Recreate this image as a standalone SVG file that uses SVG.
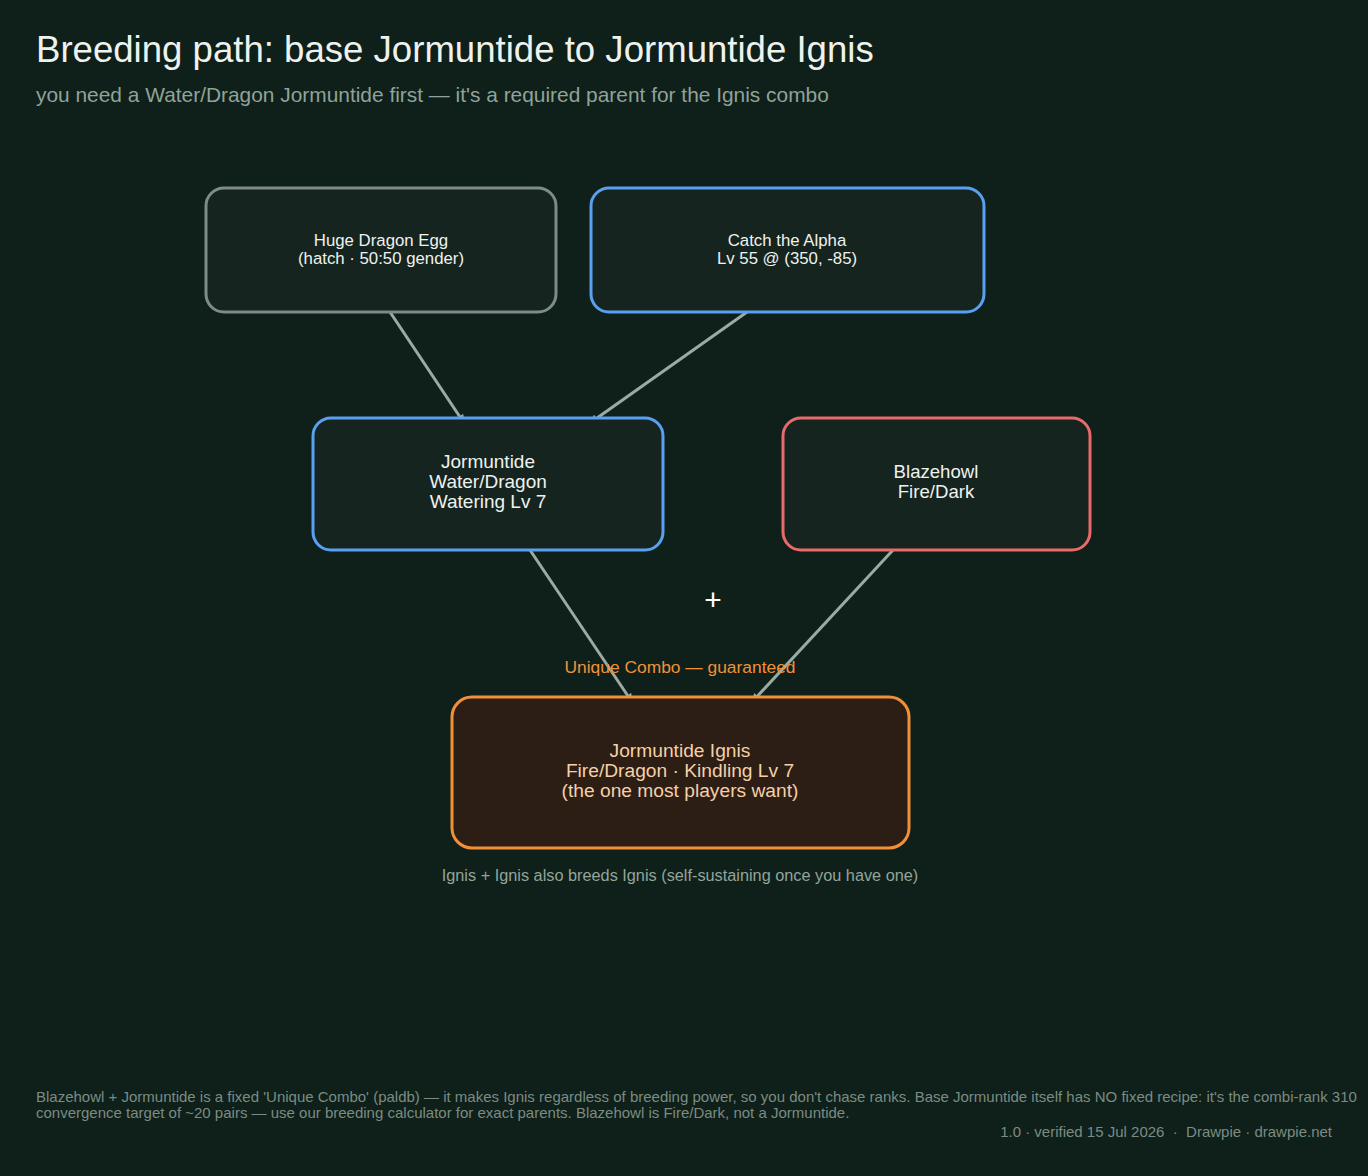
<svg xmlns="http://www.w3.org/2000/svg" width="1368" height="1176" viewBox="0 0 1368 1176">
<style>
text{font-family:"Liberation Sans",Arial,sans-serif}
.box{fill:#16241f;stroke-width:3}
.lbl{fill:#eef2ee;text-anchor:middle}
.edge{stroke:#9aaba1;stroke-width:3;fill:none}
</style>
<defs>
<marker id="ah" viewBox="0 0 10 10" refX="9" refY="5" markerWidth="3" markerHeight="3" orient="auto">
<path d="M0,0 L10,5 L0,10 z" fill="#9aaba1"/>
</marker>
</defs>
<rect width="1368" height="1176" fill="#0f1f19"/>
<text x="36" y="62" font-size="36.6" fill="#eef2ee">Breeding path: base Jormuntide to Jormuntide Ignis</text>
<text x="36" y="102" font-size="20.9" fill="#8fa39a">you need a Water/Dragon Jormuntide first — it's a required parent for the Ignis combo</text>
<g id="connectors">
<line class="edge" x1="390" y1="312" x2="464" y2="423" marker-end="url(#ah)"/>
<line class="edge" x1="747" y1="312" x2="590" y2="423" marker-end="url(#ah)"/>
<line class="edge" x1="530" y1="550" x2="632" y2="702" marker-end="url(#ah)"/>
<line class="edge" x1="893" y1="550" x2="752" y2="702" marker-end="url(#ah)"/>
</g>
<g id="egg">
<rect class="box" x="206" y="188" width="350" height="124" rx="18" stroke="#7f8c84"/>
<text class="lbl" x="381" y="245.5" font-size="16.8">Huge Dragon Egg</text>
<text class="lbl" x="381" y="263.5" font-size="16.8">(hatch · 50:50 gender)</text>
</g>
<g id="alpha">
<rect class="box" x="591" y="188" width="393" height="124" rx="18" stroke="#5aa0f0"/>
<text class="lbl" x="787" y="245.5" font-size="16.8">Catch the Alpha</text>
<text class="lbl" x="787" y="263.5" font-size="16.8">Lv 55 @ (350, -85)</text>
</g>
<g id="jormuntide">
<rect class="box" x="313" y="418" width="350" height="132" rx="18" stroke="#5aa0f0"/>
<text class="lbl" x="488" y="468" font-size="19">Jormuntide</text>
<text class="lbl" x="488" y="488" font-size="19">Water/Dragon</text>
<text class="lbl" x="488" y="508" font-size="19">Watering Lv 7</text>
</g>
<g id="blazehowl">
<rect class="box" x="783" y="418" width="307" height="132" rx="18" stroke="#e86a6a"/>
<text class="lbl" x="936" y="478" font-size="18.6">Blazehowl</text>
<text class="lbl" x="936" y="498" font-size="18.6">Fire/Dark</text>
</g>
<text x="713" y="610" font-size="30" fill="#ffffff" text-anchor="middle">+</text>
<text x="680" y="673" font-size="17.4" fill="#f0913a" text-anchor="middle">Unique Combo — guaranteed</text>
<g id="ignis">
<rect x="452" y="697" width="457" height="151" rx="20" fill="#2c1e14" stroke="#f0913a" stroke-width="3"/>
<text class="lbl" x="680" y="757" font-size="19.2" style="fill:#f5d0a8">Jormuntide Ignis</text>
<text class="lbl" x="680" y="777" font-size="19.2" style="fill:#f5d0a8">Fire/Dragon · Kindling Lv 7</text>
<text class="lbl" x="680" y="797" font-size="19.2" style="fill:#f5d0a8">(the one most players want)</text>
</g>
<text x="680" y="881" font-size="16.3" fill="#93a59b" text-anchor="middle">Ignis + Ignis also breeds Ignis (self-sustaining once you have one)</text>
<text x="36" y="1102" font-size="15" fill="#7b8c83">Blazehowl + Jormuntide is a fixed 'Unique Combo' (paldb) — it makes Ignis regardless of breeding power, so you don't chase ranks. Base Jormuntide itself has NO fixed recipe: it's the combi-rank 310</text>
<text x="36" y="1118" font-size="15" fill="#7b8c83">convergence target of ~20 pairs — use our breeding calculator for exact parents. Blazehowl is Fire/Dark, not a Jormuntide.</text>
<text x="1332" y="1137" font-size="15" fill="#7b8c83" text-anchor="end" style="white-space:pre">1.0 · verified 15 Jul 2026  ·  Drawpie · drawpie.net</text>
</svg>
